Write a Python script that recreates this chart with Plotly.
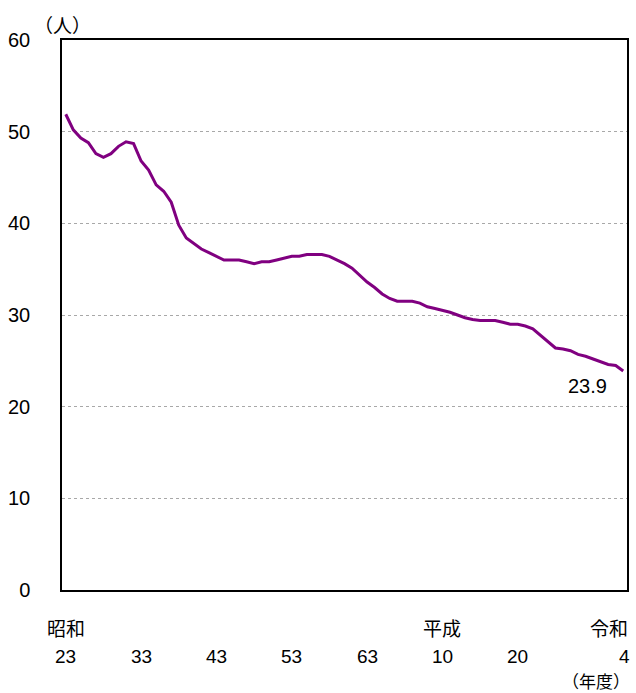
import plotly.graph_objects as go

years = list(range(1948, 2023))
values = [
    51.9, 50.2, 49.3, 48.8, 47.6, 47.2, 47.6, 48.4, 48.9, 48.7,
    46.8, 45.8, 44.2, 43.5, 42.3, 39.8, 38.4, 37.8, 37.2, 36.8,
    36.4, 36.0, 36.0, 36.0, 35.8, 35.6, 35.8, 35.8, 36.0, 36.2,
    36.4, 36.4, 36.6, 36.6, 36.6, 36.4, 36.0, 35.6, 35.1, 34.3,
    33.6, 33.0, 32.3, 31.8, 31.5, 31.5, 31.5, 31.3, 30.9, 30.7,
    30.5, 30.3, 30.0, 29.7, 29.5, 29.4, 29.4, 29.4, 29.2, 29.0,
    29.0, 28.8, 28.5, 27.8, 27.0, 26.4, 26.3, 26.1, 25.7, 25.5,
    25.2, 24.9, 24.6, 24.5, 23.9,
]
tick_years = [1948, 1958, 1968, 1978, 1988, 1998, 2008, 2022]
tick_labels = ["23", "33", "43", "53", "63", "10", "20", "4"]
era_years = [1948, 1998, 2022]
era_labels = ["昭和", "平成", "令和"]
y_unit = "（人）"
x_unit = "（年度）"
last_label = "23.9"

FONT = "Liberation Sans, Noto Sans CJK JP"
CJK = "Noto Sans CJK JP"
BLACK = "#000"

fig = go.Figure()
fig.add_trace(go.Scatter(
    x=years, y=values, mode="lines",
    line=dict(color="#800080", width=3),
    hoverinfo="skip", showlegend=False,
))

ann = []
for yr, lab in zip(tick_years, tick_labels):
    last = yr == tick_years[-1]
    ann.append(dict(x=yr, y=0, xref="x", yref="paper", text=lab, showarrow=False,
                    xanchor="center", yanchor="middle", yshift=-66,
                    xshift=1 if last else 0, borderpad=0,
                    font=dict(family=FONT, size=19, color=BLACK)))
for yr, lab in zip(era_years, era_labels):
    last = yr == era_years[-1]
    ann.append(dict(x=yr, y=0, xref="x", yref="paper", text=lab, showarrow=False,
                    xanchor="right" if last else "center", yanchor="middle",
                    yshift=-37, xshift=6 if last else 0, borderpad=0,
                    font=dict(family=CJK, size=19, color=BLACK)))
ann.append(dict(x=years[-1], y=0, xref="x", yref="paper", text=x_unit, showarrow=False,
                xanchor="right", yanchor="middle", yshift=-90, xshift=8,
                borderpad=0,
                font=dict(family=CJK, size=17, color=BLACK)))
ann.append(dict(x=0, y=1, xref="paper", yref="paper", text=y_unit, showarrow=False,
                xanchor="center", yanchor="middle", yshift=16, xshift=0,
                font=dict(family=CJK, size=19, color=BLACK)))
ann.append(dict(x=years[-1], y=values[-1], xref="x", yref="y", text=last_label,
                showarrow=False, xanchor="center", yanchor="middle",
                xshift=-36, yshift=-15,
                font=dict(family=FONT, size=20, color=BLACK)))

fig.update_layout(
    width=636, height=693,
    margin=dict(l=62, r=7, t=40, b=103),
    plot_bgcolor="white", paper_bgcolor="white",
    annotations=ann,
    xaxis=dict(range=[1947.5, 2022.5], showticklabels=False, showgrid=False,
               zeroline=False, showline=True, linecolor="black", linewidth=1.5,
               mirror=True, ticks=""),
    yaxis=dict(range=[0, 60], dtick=10, tick0=0, showgrid=True,
               gridcolor="#a8a8a8", gridwidth=1, griddash="dot",
               zeroline=False, showline=True, linecolor="black", linewidth=1.5,
               mirror=True, ticks="", ticklabelstandoff=26,
               tickfont=dict(family=FONT, size=20, color=BLACK)),
)

fig.write_html(
    "out.html",
    config={"displayModeBar": False},
    post_script="document.body.style.margin='0';document.body.style.padding='0';document.body.style.overflow='hidden';",
)
